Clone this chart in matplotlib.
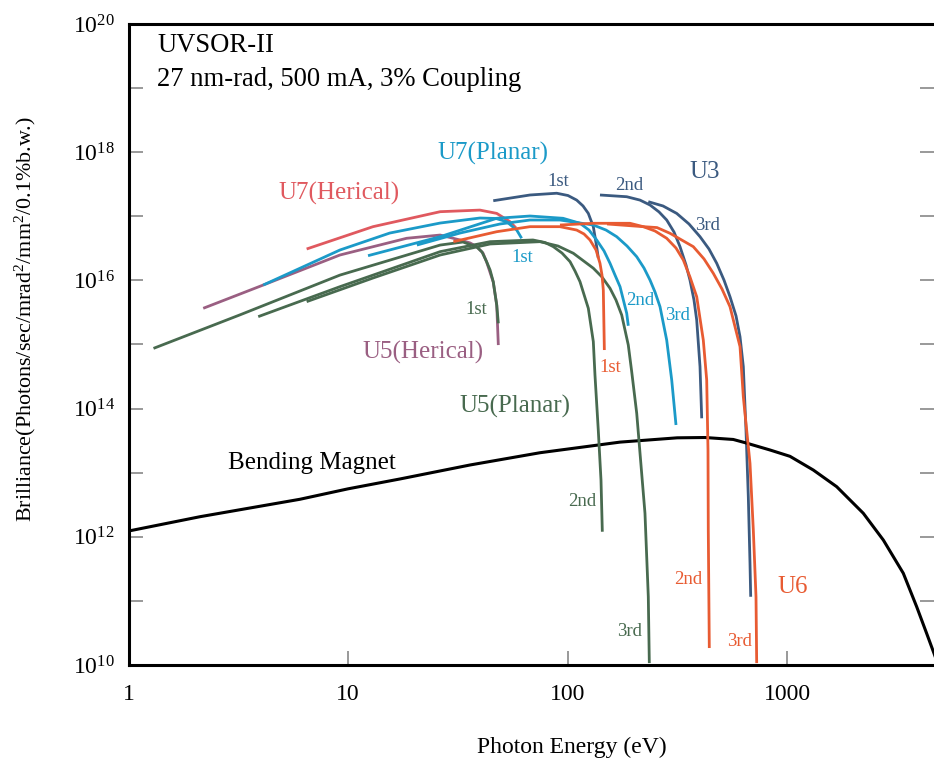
import matplotlib
matplotlib.use("Agg")
import matplotlib.pyplot as plt
import numpy as np
from matplotlib.ticker import FixedLocator, FuncFormatter

plt.rcParams['font.family'] = ['Liberation Serif', 'DejaVu Serif']
plt.rcParams['mathtext.fontset'] = 'custom'
plt.rcParams['mathtext.rm'] = 'Liberation Serif'
plt.rcParams['mathtext.it'] = 'Liberation Serif:italic'
plt.rcParams['mathtext.bf'] = 'Liberation Serif:bold'

# ---------------- data (photon energy in eV, brilliance) ----------------
bm_E = [1.0, 2.12, 6.04, 10.0, 17.3, 36.0, 75.0, 173.5, 316, 423, 569, 644, 837, 1032, 1318, 1684,
        2226, 2747, 3387, 3898, 4329, 4674, 5000]
bm_B = [1.23e12, 2.06e12, 3.85e12, 5.6e12, 8.0e12, 1.32e13, 2.05e13, 3.0e13, 3.5e13, 3.54e13, 3.3e13,
        2.94e13, 2.26e13, 1.8e13, 1.10e13, 6.05e12, 2.33e12, 8.9e11, 2.7e11, 8.1e10, 3.1e10, 1.52e10, 8e9]

u5p1_E = [1.30, 3.22, 9.19, 26.3, 33.4, 38.6, 40.8, 42.8, 44.4, 45.9, 47.6, 48.4]
u5p1_B = [8.7e14, 2.9e15, 1.21e16, 3.56e16, 3.97e16, 3.32e16, 2.77e16, 1.96e16, 1.45e16, 9.5e15,
          4.13e15, 2.14e15]

u5p2_E = [3.90, 9.19, 26.3, 44.4, 69.6, 79.0, 86.2, 94.4, 102.7, 108.2, 114, 124.4, 131.1, 133.4,
          138.1, 142.1, 144.1]
u5p2_B = [2.72e15, 7.98e15, 2.81e16, 4.02e16, 4.27e16, 3.9e16, 3.36e16, 2.67e16, 1.96e16, 1.4e16,
          9.55e15, 3.67e15, 1.11e15, 3.34e14, 4.63e13, 7.69e12, 1.2e12]

u5p3_E = [6.48, 13.0, 26.3, 44.4, 74.9, 90.5, 106.3, 131.1, 143.6, 156.2, 166.3, 176.6, 189.2, 196.1,
          206.7, 225.4, 233.4, 235.9]
u5p3_B = [4.66e15, 1.09e16, 2.49e16, 3.7e16, 4.02e16, 3.44e16, 2.65e16, 1.55e16, 1.13e16, 7.53e15,
          4.94e15, 2.88e15, 9.82e14, 3.77e14, 8.45e13, 2.33e12, 1.16e11, 1.07e10]

u5h_E = [2.19, 4.11, 9.19, 18.5, 26.3, 32.4, 36.0, 38.6, 41.2, 42.8, 45.9, 47.6, 48.4]
u5h_B = [3.67e15, 8.47e15, 2.49e16, 4.54e16, 5.1e16, 4.27e16, 3.84e16, 3.36e16, 2.67e16, 1.94e16,
         9.4e15, 4.1e15, 9.8e14]

u7h_E = [6.48, 13.0, 26.3, 39.9, 47.6, 54.7, 58.3]
u7h_B = [3.09e16, 6.89e16, 1.18e17, 1.25e17, 1.11e17, 8.24e16, 6.56e16]

u7p1_E = [4.11, 9.19, 15.5, 26.3, 39.9, 47.2, 52.8, 58.7, 61.8]
u7p1_B = [8.47e15, 2.98e16, 5.48e16, 7.85e16, 9.4e16, 9.25e16, 8.24e16, 6.1e16, 4.54e16]

u7p2_E = [12.34, 26.3, 47.6, 67.5, 95.4, 114, 125.3, 135.8, 146.7, 156.2, 164.6, 173.5, 186.1, 189.2]
u7p2_B = [2.43e16, 4.81e16, 9.31e16, 1.01e17, 9.31e16, 7.78e16, 6.1e16, 4.27e16, 2.88e16, 1.85e16,
          1.21e16, 7.98e15, 3.07e15, 1.96e15]

u7p3_E = [20.6, 32.4, 49.3, 67.5, 92.4, 131.1, 149.8, 167.5, 186.7, 206.7, 223.1, 237.7, 250.4, 263.9,
          283.1, 298.4, 312.1]
u7p3_B = [3.56e16, 5.48e16, 7.59e16, 8.75e16, 8.75e16, 7.31e16, 6.1e16, 4.81e16, 3.44e16, 2.34e16,
          1.56e16, 1.01e16, 6.59e15, 3.89e15, 1.17e15, 2.79e14, 5.55e13]

u3_1_E = [45.9, 67.5, 89.3, 100.5, 110.1, 117.7, 124.4, 131.1, 135.8, 138.1]
u3_1_B = [1.75e17, 2.15e17, 2.29e17, 2.11e17, 1.79e17, 1.45e17, 1.11e17, 6.89e16, 3.36e16, 2.24e16]

u3_2_E = [140.6, 186.1, 213.9, 237.7, 261.2, 283.1, 305.6, 325.5, 346.7, 361.4, 376.9, 387.8, 401.5, 408.7]
u3_2_B = [2.15e17, 2.02e17, 1.79e17, 1.5e17, 1.17e17, 8.75e16, 5.69e16, 3.36e16, 1.74e16, 1.01e16,
          4.94e15, 2.41e15, 4.51e14, 7.06e13]

u3_3_E = [233.4, 272.3, 314.4, 357.7, 401.5, 441.1, 478.4, 516.4, 549.9, 585.9, 610.9, 632.4, 650.4,
          666.4, 678.3, 683.3]
u3_3_B = [1.69e17, 1.45e17, 1.11e17, 7.59e16, 4.81e16, 3.09e16, 1.85e16, 1.01e16, 5.57e15, 2.79e15,
          1.32e15, 4.51e14, 4.63e13, 4.23e12, 3.86e11, 1.16e11]

u6_1_E = [30.2, 47.6, 67.5, 92.4, 110.1, 118.9, 126.6, 134.9, 140.6, 143.6, 145.6, 147.2]
u6_1_B = [4.02e16, 5.75e16, 6.89e16, 6.89e16, 6.1e16, 5.3e16, 4.27e16, 2.98e16, 1.85e16, 1.21e16,
          7.08e15, 8.2e14]

u6_2_E = [92.4, 131.1, 192.6, 221.4, 250.4, 283.1, 312.1, 337.0, 361.4, 387.8, 415.6, 430.7, 436.6,
          437.9, 442.6]
u6_2_B = [7.31e16, 7.78e16, 7.78e16, 6.89e16, 5.9e16, 4.54e16, 3.2e16, 2.08e16, 1.13e16, 5.57e15,
          1.17e15, 2.79e14, 2.26e13, 1.28e12, 1.84e10]

u6_3_E = [151.4, 221.4, 255.7, 293.1, 374.2, 418.8, 461.6, 505.6, 549.9, 610.9, 632.4, 678.3, 702.3,
          722.4, 727.6]
u6_3_B = [7.59e16, 6.89e16, 6.67e16, 5.43e16, 3.36e16, 2.16e16, 1.29e16, 7.35e15, 3.89e15, 9.25e14,
          1.53e14, 1.4e13, 1.28e12, 1.16e11, 1.07e10]

x_ticks = [1, 10, 100, 1000]
x_tick_labels = ['1', '10', '100', '1000']
y_ticks = [10.0 ** k for k in range(10, 21)]

# ---------------- colours ----------------
C_U3 = '#3b5a80'
C_U7P = '#1b9ac8'
C_U7H = '#e0595f'
C_U6 = '#e85b32'
C_U5H = '#9a5f82'
C_U5P = '#486a4f'

W, H = 934, 761
fig = plt.figure(figsize=(W / 100, H / 100), dpi=100)
L, R, T, B = 128.5, 934.0, 24.0, 665.0
ax = fig.add_axes([L / W, 1 - B / H, (R - L) / W, (B - T) / H])

lw = 2.0
kw = dict(lw=lw, solid_joinstyle='round', solid_capstyle='butt')
ax.plot(bm_E, bm_B, color='black', lw=2.2, zorder=3, solid_joinstyle='round')
ax.plot(u5h_E, u5h_B, color=C_U5H, zorder=2, **kw)
ax.plot(u7h_E, u7h_B, color=C_U7H, zorder=2, **kw)
ax.plot(u3_1_E, u3_1_B, color=C_U3, zorder=2, **kw)
ax.plot(u3_2_E, u3_2_B, color=C_U3, zorder=2, **kw)
ax.plot(u3_3_E, u3_3_B, color=C_U3, zorder=2, **kw)
for e, b in [(u5p1_E, u5p1_B), (u5p2_E, u5p2_B), (u5p3_E, u5p3_B)]:
    ax.plot(e, b, color=C_U5P, zorder=3, **kw)
for e, b in [(u7p1_E, u7p1_B), (u7p2_E, u7p2_B), (u7p3_E, u7p3_B)]:
    ax.plot(e, b, color=C_U7P, zorder=4, **kw)
for e, b in [(u6_1_E, u6_1_B), (u6_2_E, u6_2_B), (u6_3_E, u6_3_B)]:
    ax.plot(e, b, color=C_U6, zorder=4, **kw)

ax.set_xscale('log')
ax.set_yscale('log')
ax.set_xlim(1, 10 ** ((R - L) / 219.5))
ax.set_ylim(1e10, 1e20)

ax.xaxis.set_major_locator(FixedLocator(x_ticks))
ax.xaxis.set_minor_locator(FixedLocator([]))
ax.set_xticklabels(x_tick_labels)
ax.yaxis.set_major_locator(FixedLocator(y_ticks))
ax.yaxis.set_minor_locator(FixedLocator([]))


def yfmt(v, pos):
    k = int(round(np.log10(v)))
    return r'$10^{%d}$' % k if k % 2 == 0 else ''


ax.yaxis.set_major_formatter(FuncFormatter(yfmt))
ax.tick_params(axis='both', which='major', direction='in', length=10, width=1.2,
               color='#888888', labelsize=17, pad=10)
ax.tick_params(axis='y', right=True, left=True)
ax.tick_params(axis='x', pad=14)

for s in ['left', 'bottom', 'top']:
    ax.spines[s].set_linewidth(2.2)
ax.spines['right'].set_visible(False)

ax.set_xlabel('Photon Energy (eV)', fontsize=17)
ax.xaxis.set_label_coords((572 - L) / (R - L), (B - 737) / (B - T))
ax.set_ylabel(r'Brilliance(Photons/sec/mrad$^2$/mm$^2$/0.1%b.w.)', fontsize=15.8)
ax.yaxis.set_label_coords((38 - L) / (R - L), (B - 319) / (B - T))


def px(x, y):
    return ((x - L) / (R - L), (B - y) / (B - T))


def lab(x, y, s, c, fs, ha='center'):
    ax.text(*px(x, y), s, color=c, fontsize=fs, ha=ha, va='center', transform=ax.transAxes, zorder=6)


lab(157, 46, 'UVSOR-II', 'black', 19.2, ha='left')
lab(157, 79, '27 nm-rad, 500 mA, 3% Coupling', 'black', 19.2, ha='left')

BIG, SMALL = 18, 13.5
lab(493, 153, 'U7(Planar)', C_U7P, BIG)
lab(558, 181, '1st', C_U3, SMALL)
lab(629, 186, '2nd', C_U3, SMALL)
lab(705, 172, 'U3', C_U3, BIG)
lab(708, 226, '3rd', C_U3, SMALL)
lab(339, 193, 'U7(Herical)', C_U7H, BIG)
lab(522, 258, '1st', C_U7P, SMALL)
lab(640, 301, '2nd', C_U7P, SMALL)
lab(677, 315, '3rd', C_U7P, SMALL)
lab(476, 310, '1st', C_U5P, SMALL)
lab(423, 352, 'U5(Herical)', C_U5H, BIG)
lab(610, 368, '1st', C_U6, SMALL)
lab(515, 406, 'U5(Planar)', C_U5P, BIG)
lab(312, 463, 'Bending Magnet', 'black', BIG)
lab(582, 502, '2nd', C_U5P, SMALL)
lab(688, 580, '2nd', C_U6, SMALL)
lab(793, 587, 'U6', C_U6, BIG)
lab(630, 631, '3rd', C_U5P, SMALL)
lab(740, 641, '3rd', C_U6, SMALL)

fig.savefig('out.png', dpi=100)
